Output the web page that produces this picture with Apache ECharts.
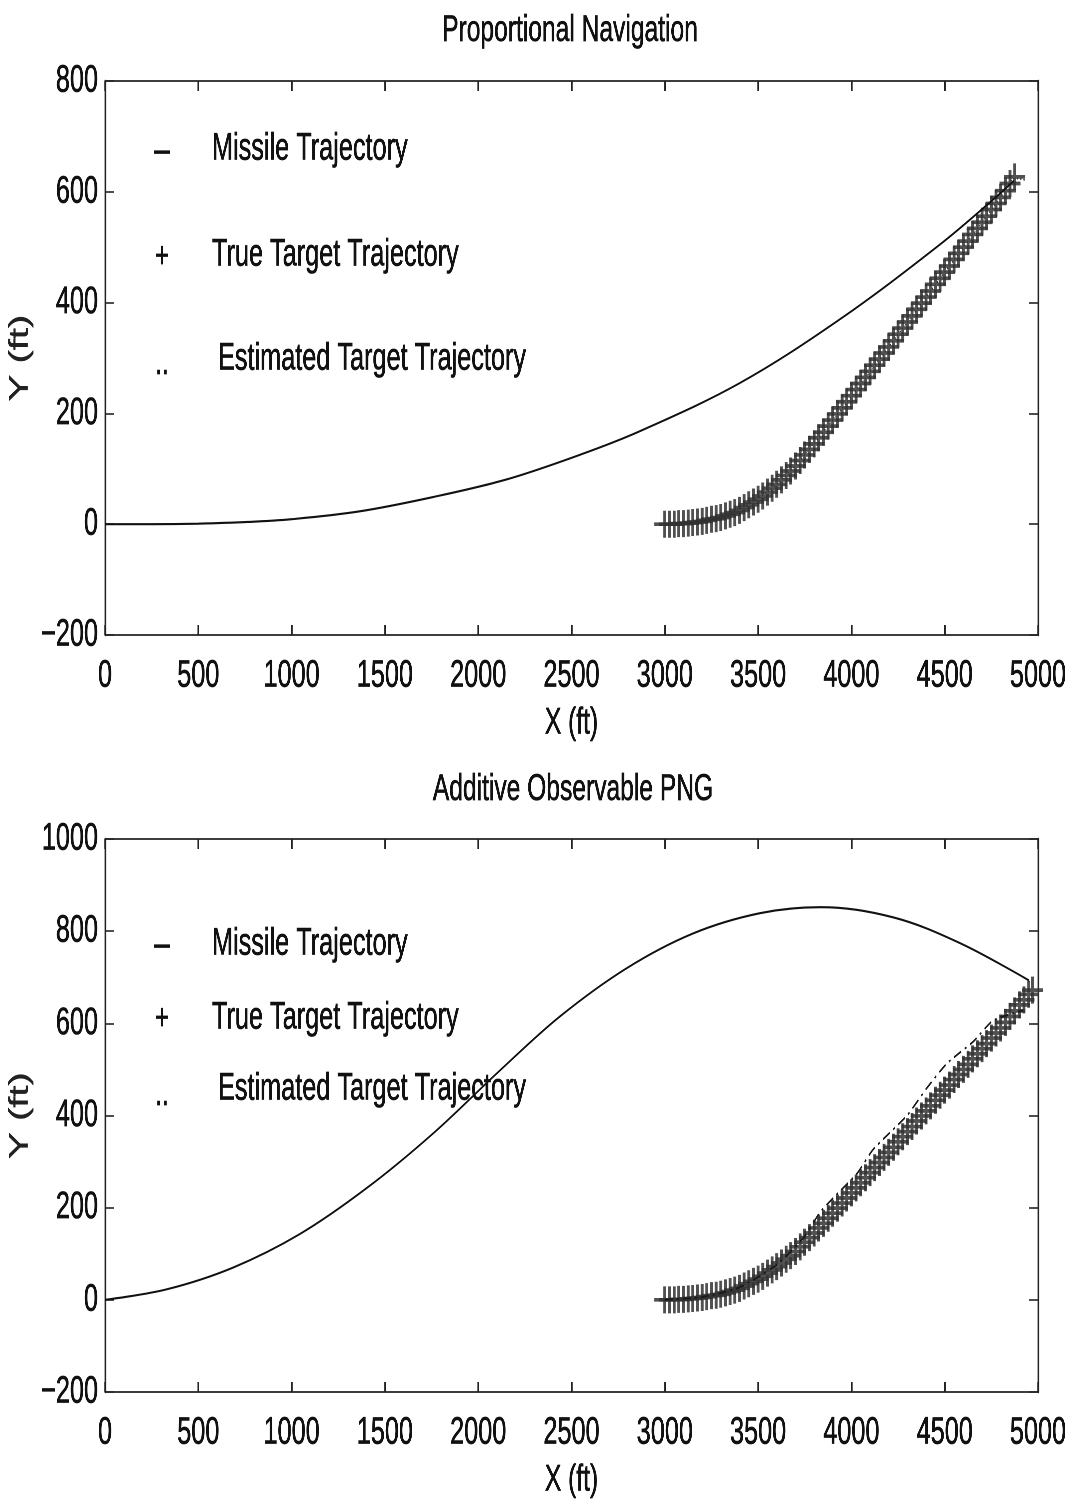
<!DOCTYPE html>
<html>
<head>
<meta charset="utf-8">
<script src="https://cdn.jsdelivr.net/npm/echarts@6/dist/echarts.min.js"></script>
<style>
  html, body { margin: 0; padding: 0; background: #fff; overflow: hidden; }
  #wrap { position: absolute; left: 0; top: 0; width: 1073px; height: 1505px; overflow: hidden; }
  /* the chart is laid out wider and squeezed horizontally to get condensed lettering */
  #chart { position: absolute; left: 0; top: 0; height: 1505px; transform-origin: 0 0; }
</style>
</head>
<body>
<div id="wrap"><div id="chart"></div></div>
<script>
// ---- data (ft) ----
const xTicks = [0, 500, 1000, 1500, 2000, 2500, 3000, 3500, 4000, 4500, 5000];

// Proportional navigation: missile path
const missilePnX = [0, 250, 500, 766, 1000, 1361, 1758, 2154, 2551, 2867, 3403, 3939, 4475, 4770, 4870];
const missilePnY = [0, 0, 1, 4, 9, 23, 49, 81, 126, 168, 255, 370, 505, 589, 620];

// Additive observable PNG: missile path
const missileAoX = [0, 332, 686, 1045, 1404, 1758, 2117, 2438, 2797, 3151, 3510, 3832, 4223, 4582, 4952];
const missileAoY = [0, 23, 70, 143, 243, 361, 498, 615, 720, 795, 839, 852, 830, 774, 693];

// True target path (same target in both engagements)
const targetX = [3000, 3025, 3050, 3075, 3100, 3125, 3150, 3175, 3200, 3225, 3250, 3275, 3300, 3325, 3350, 3375,
  3400, 3425, 3450, 3475, 3500, 3525, 3550, 3575, 3600, 3625, 3650, 3675, 3700, 3725, 3750, 3775,
  3800, 3825, 3850, 3875, 3900, 3925, 3950, 3975, 4000, 4025, 4050, 4075, 4100, 4125, 4150, 4175,
  4200, 4225, 4250, 4275, 4300, 4325, 4350, 4375, 4400, 4425, 4450, 4475, 4500, 4525, 4550, 4575,
  4600, 4625, 4650, 4675, 4700, 4725, 4750, 4775, 4800, 4825, 4850, 4875, 4900, 4925, 4950, 4970];
const targetY = [0, 0, 0, 1, 1, 2, 3, 4, 5, 7, 9, 10, 12, 15, 18, 21,
  25, 30, 35, 40, 45, 51, 58, 65, 72, 80, 88, 96, 105, 115, 125, 135,
  145, 156, 166, 177, 188, 199, 210, 221, 232, 243, 254, 265, 276, 287, 298, 309,
  320, 331, 343, 354, 365, 376, 388, 399, 410, 421, 433, 444, 455, 466, 478, 489,
  500, 511, 523, 534, 545, 556, 568, 579, 590, 602, 615, 627, 640, 651, 663, 672];
const targetEndPn = 4875;   // intercept, proportional navigation
const targetEndAo = 4975;   // intercept, additive observable PNG

// Estimated target paths
const estPnX = [3000, 3300, 3600, 3900, 4200, 4500, 4800, 4875, 4935];
const estPnY = [0, 12, 72, 188, 320, 455, 590, 624, 621];
const estAoX = [3000, 3200, 3400, 3600, 3750, 3832, 3939, 4030, 4116, 4298, 4405, 4512, 4652, 4759, 4920];
const estAoY = [0, 6, 27, 76, 138, 190, 236, 274, 326, 400, 460, 513, 560, 606, 628];

const legendNames = ['Missile Trajectory', 'True Target Trajectory', 'Estimated Target Trajectory'];
const titles = ['Proportional Navigation', 'Additive Observable PNG'];

// ---- layout ----
const SX = 0.665;                      // horizontal squeeze applied with CSS
const sx = v => v / SX;                // screen x -> chart x
const chartDom = document.getElementById('chart');
chartDom.style.width = sx(1073) + 'px';
chartDom.style.transform = 'scaleX(' + SX + ')';

const FONT = '"Liberation Sans", Arial, sans-serif';
const INK = '#111';
const pairs = (xs, ys, xmax) => xs.map((x, i) => [x, ys[i]]).filter(p => xmax === undefined || p[0] <= xmax);
// slightly heavier lettering
const heavy = { textBorderColor: INK, textBorderWidth: 0.7 };

const grids = [
  { left: sx(105), top: 81, width: sx(933), height: 554, containLabel: false, outerBoundsMode: 'none' },
  { left: sx(105), top: 839, width: sx(933), height: 553, containLabel: false, outerBoundsMode: 'none' }
];

function xAxes(gi) {
  const common = { gridIndex: gi, type: 'value', min: 0, max: 5000, interval: 500,
    splitLine: { show: false },
    axisLine: { onZero: false, lineStyle: { color: '#222', width: 1.7 } },
    axisTick: { inside: true, length: 10, lineStyle: { color: '#222', width: 2.2 } } };
  return [
    Object.assign({}, common, { position: 'bottom',
      name: 'X (ft)', nameLocation: 'middle', nameGap: 70,
      nameTextStyle: Object.assign({ fontFamily: FONT, fontSize: 37, color: INK }, heavy),
      axisLabel: Object.assign({ fontFamily: FONT, fontSize: 38, color: INK, margin: 22,
        formatter: v => xTicks.includes(v) ? String(v) : '' }, heavy) }),
    Object.assign({}, common, { position: 'top', axisLabel: { show: false } })
  ];
}
function yAxes(gi, min, max) {
  const common = { gridIndex: gi, type: 'value', min: min, max: max, interval: 200,
    splitLine: { show: false },
    axisLine: { onZero: false, lineStyle: { color: '#222', width: 2.5 } },
    axisTick: { inside: true, length: sx(9), lineStyle: { color: '#222', width: 1.6 } } };
  return [
    Object.assign({}, common, { position: 'left',
      name: 'Y (ft)', nameLocation: 'middle', nameRotate: 90, nameGap: sx(70),
      nameTextStyle: { fontFamily: FONT, fontSize: 40, color: '#222', textBorderColor: '#222', textBorderWidth: 0.5 },
      axisLabel: Object.assign({ fontFamily: FONT, fontSize: 38, color: INK, margin: sx(7),
        formatter: v => v < 0 ? '\u2212' + Math.abs(v) : String(v) }, heavy) }),
    Object.assign({}, common, { position: 'right', axisLabel: { show: false } })
  ];
}

const plusSymbol = 'path://M5,0L5,10M0,5L10,5';
function targetSeries(ax, xmax) {
  return { type: 'scatter', xAxisIndex: ax, yAxisIndex: ax, data: pairs(targetX, targetY, xmax),
    symbol: plusSymbol, symbolSize: [sx(21), 27],
    itemStyle: { color: 'none', borderColor: '#333', borderWidth: 4, opacity: 0.85 },
    z: 2, silent: true };
}
function lineSeries(ax, xs, ys, style, smooth) {
  return { type: 'line', xAxisIndex: ax, yAxisIndex: ax, data: pairs(xs, ys),
    showSymbol: false, symbol: 'none', smooth: smooth, lineStyle: style, z: 3, silent: true };
}

function text(x, y, str, size, align) {
  return { type: 'text', x: x, y: y, silent: true,
    style: { text: str, fontFamily: FONT, fontSize: size, fill: INK, stroke: INK, lineWidth: 0.7,
      align: align || 'left', verticalAlign: 'middle' } };
}
function legendBlock(rows) {
  const out = [];
  const marks = ['\u2013', '+', '..'];
  const sizes = [42, 36, 36];
  rows.forEach((r, i) => {
    out.push(text(sx(162), r.sy, marks[i], sizes[i], 'center'));
    out.push(text(sx(r.tx), r.ty, legendNames[i], 38));
  });
  return out;
}

const graphic = [
  text(sx(570), 31, titles[0], 37, 'center'),
  text(sx(573), 790, titles[1], 37, 'center')
].concat(legendBlock([
  { sy: 151, tx: 212, ty: 149 },
  { sy: 257, tx: 212, ty: 255 },
  { sy: 364, tx: 218, ty: 359 }
])).concat(legendBlock([
  { sy: 945, tx: 212, ty: 944 },
  { sy: 1019, tx: 212, ty: 1018 },
  { sy: 1095, tx: 218, ty: 1089 }
]));

const chart = echarts.init(chartDom, null, { renderer: 'canvas', devicePixelRatio: 2 });
chart.setOption({
  animation: false,
  backgroundColor: '#fff',
  grid: grids,
  xAxis: xAxes(0).concat(xAxes(1)),
  yAxis: yAxes(0, -200, 800).concat(yAxes(1, -200, 1000)),
  graphic: graphic,
  series: [
    targetSeries(0, targetEndPn),
    lineSeries(0, estPnX, estPnY, { color: '#333', width: 1.3, type: [2, 3] }, 0.3),
    lineSeries(0, missilePnX, missilePnY, { color: INK, width: 2.1 }, 0.35),
    // bottom plot uses axes 2/3 (1 and 3 are the mirrored top/right axes)
    targetSeries(2, targetEndAo),
    lineSeries(2, estAoX, estAoY, { color: '#1a1a1a', width: 2, type: [12, 6, 3, 6] }, 0.2),
    lineSeries(2, missileAoX, missileAoY, { color: INK, width: 2.1 }, 0.35)
  ]
});
</script>
</body>
</html>
